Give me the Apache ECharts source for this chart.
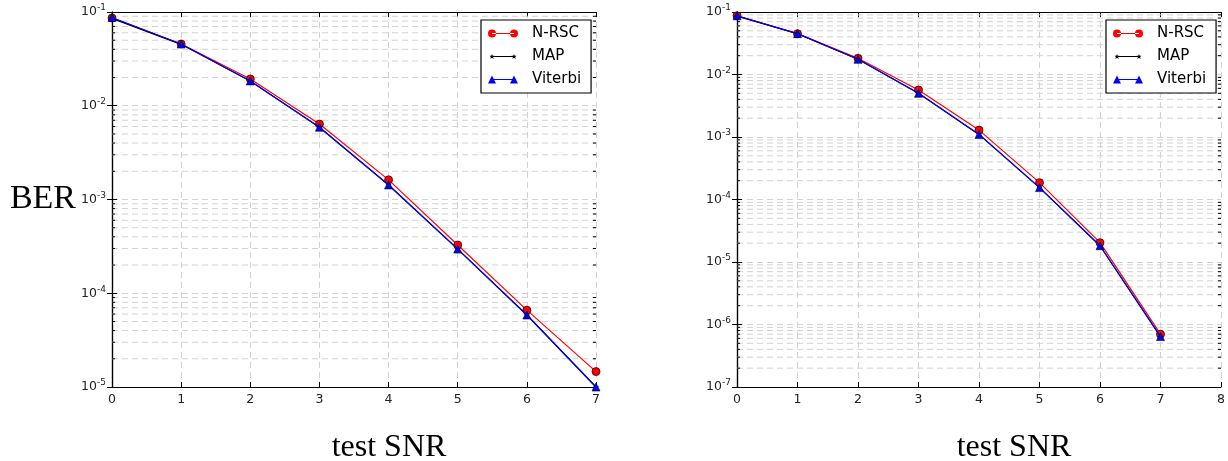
<!DOCTYPE html>
<html><head><meta charset="utf-8">
<script src="https://cdn.jsdelivr.net/npm/echarts@6/dist/echarts.min.js"></script>
<style>html,body{margin:0;padding:0;background:#fff}#c{width:1228px;height:461px}</style>
</head><body><div id="c"></div>
<script>
// ---- data ----
const snrLeft = [0, 1, 2, 3, 4, 5, 6, 7];
const nrscLeft = [0.0863, 0.0456, 0.0193, 0.00638, 0.00162, 3.27e-4, 6.6e-5, 1.46e-5];
const mapLeft = [0.0855, 0.0452, 0.0184, 0.0059, 0.00143, 2.96e-4, 5.86e-5, 1.0e-5];
const viterbiLeft = [0.0875, 0.0456, 0.0184, 0.0059, 0.00143, 2.96e-4, 5.86e-5, 1.0e-5];

const snrRight = [0, 1, 2, 3, 4, 5, 6, 7];
const nrscRight = [0.087, 0.045, 0.0182, 0.00565, 0.00129, 1.86e-4, 2.04e-5, 7.0e-7];
const mapRight = [0.086, 0.0448, 0.0175, 0.0050, 0.0011, 1.55e-4, 1.82e-5, 6.4e-7];
const viterbiRight = [0.087, 0.045, 0.0175, 0.0050, 0.0011, 1.55e-4, 1.82e-5, 6.4e-7];

const seriesNames = ['N-RSC', 'MAP', 'Viterbi'];
const xLabel = 'test SNR';
const yLabel = 'BER';

// ---- helpers ----
const pairs = (xs, ys) => xs.map((x, i) => [x, ys[i]]);
const minorValues = (loExp, hiExp) => {
  const out = [];
  for (let e = loExp; e < hiExp; e++) for (let m = 2; m <= 9; m++) out.push([m, e]);
  return out;
};
const gridColor = '#d2d2d2';
const dash = [6, 4];
const tickFont = { fontFamily: 'DejaVu Sans', fontSize: 12.5, color: '#222' };
const yFmt = v => '10{s|' + Math.round(Math.log10(v)) + '}';
const starPath = 'M0,-10L2.35,-3.24L9.51,-3.09L3.8,1.24L5.88,8.09L0,4L-5.88,8.09L-3.8,1.24L-9.51,-3.09L-2.35,-3.24Z';

// legend icons: line with marker at both ends (30 x 8 box)
const lineBar = 'M4,3.4L26,3.4L26,4.6L4,4.6Z';
const iconCircle = 'path://M0,4a4,4 0 1,0 8,0a4,4 0 1,0 -8,0Z M22,4a4,4 0 1,0 8,0a4,4 0 1,0 -8,0Z ' + lineBar;
const iconTri = 'path://M0,8L4,0L8,8Z M22,8L26,0L30,8Z ' + lineBar;
const iconStar = 'path://M4,1.5L4.7,3.3L6.5,3.3L5.1,4.5L5.6,6.5L4,5.3L2.4,6.5L2.9,4.5L1.5,3.3L3.3,3.3Z ' +
  'M26,1.5L26.7,3.3L28.5,3.3L27.1,4.5L27.6,6.5L26,5.3L24.4,6.5L24.9,4.5L23.5,3.3L25.3,3.3Z ' +
  'M0,0L0.01,0L0.01,0.01Z M30,8L29.99,8L29.99,7.99Z M4,3.5L26,3.5L26,4.5L4,4.5Z';

function xAxisDef(gi, max, pos, withName) {
  return {
    type: 'value', gridIndex: gi, min: 0, max: max, interval: 1, position: pos,
    axisLine: { show: true, lineStyle: { color: '#000', width: 1.2 } },
    axisTick: { show: true, inside: true, length: 5, lineStyle: { color: '#000' } },
    axisLabel: pos === 'bottom' ? Object.assign({ margin: 6 }, tickFont) : { show: false },
    splitLine: { show: pos === 'bottom', lineStyle: { color: gridColor, type: dash } },
    name: withName ? xLabel : '', nameLocation: 'middle', nameGap: 45,
    nameTextStyle: { fontFamily: 'Liberation Serif', fontSize: 32, color: '#000', padding: [0, 0, 0, 70] }
  };
}
function yAxisDef(gi, minExp, pos, withName) {
  return {
    type: 'log', logBase: 10, gridIndex: gi, min: Math.pow(10, minExp), max: 0.1, interval: 1, position: pos,
    axisLine: { show: true, lineStyle: { color: '#000', width: 1.2 } },
    axisTick: { show: true, inside: true, length: 5, lineStyle: { color: '#000' } },
    axisLabel: pos === 'left' ? Object.assign({ margin: 6, formatter: yFmt,
      rich: { s: { fontFamily: 'DejaVu Sans', fontSize: 9, color: '#222', padding: [0, 0, 8, 0] } } }, tickFont) : { show: false },
    splitLine: { show: pos === 'left', lineStyle: { color: gridColor, type: dash } },
    name: withName ? yLabel : '', nameLocation: 'middle', nameRotate: 0, nameGap: 36,
    nameTextStyle: { fontFamily: 'Liberation Serif', fontSize: 34, color: '#000', padding: [18, 0, 0, 0] }
  };
}
function minorGrid(gi, xMax, minExp) {
  return {
    type: 'custom', xAxisIndex: gi, yAxisIndex: gi, silent: true, z: 1, animation: false,
    data: minorValues(minExp, -1),
    renderItem: (params, api) => {
      const v = api.value(0) * Math.pow(10, api.value(1));
      const a = api.coord([0, v]);
      const b = api.coord([xMax, v]);
      return { type: 'group', children: [
        { type: 'line', shape: { x1: a[0], y1: a[1], x2: b[0], y2: b[1] },
          style: { stroke: gridColor, lineWidth: 1, lineDash: dash } },
        { type: 'line', shape: { x1: a[0], y1: a[1], x2: a[0] + 3, y2: a[1] }, style: { stroke: '#000', lineWidth: 1 } },
        { type: 'line', shape: { x1: b[0] - 3, y1: b[1], x2: b[0], y2: b[1] }, style: { stroke: '#000', lineWidth: 1 } }
      ] };
    }
  };
}
function seriesFor(gi, xs, a, b, c, xMax, minExp) {
  const base = { type: 'line', xAxisIndex: gi, yAxisIndex: gi, animation: false };
  return [
    minorGrid(gi, xMax, minExp),
    Object.assign({}, base, { name: seriesNames[0], data: pairs(xs, a), z: 3,
      symbol: 'circle', symbolSize: 8, lineStyle: { color: '#ff0000', width: 1.2 },
      itemStyle: { color: '#ff0000', borderColor: '#300', borderWidth: 0.8 } }),
    Object.assign({}, base, { name: seriesNames[1], data: pairs(xs, b), z: 4,
      symbol: 'path://' + starPath, symbolSize: 6,
      lineStyle: { color: '#000', width: 1.2 }, itemStyle: { color: '#000' } }),
    Object.assign({}, base, { name: seriesNames[2], data: pairs(xs, c), z: 5,
      symbol: 'triangle', symbolSize: 8, lineStyle: { color: '#0000ff', width: 1.2 },
      itemStyle: { color: '#0000ff', borderColor: '#000', borderWidth: 0.6 } })
  ];
}
function legendDef(left) {
  return {
    data: [
      { name: seriesNames[0], icon: iconCircle, itemStyle: { color: '#ff0000', borderWidth: 0 } },
      { name: seriesNames[1], icon: iconStar, itemStyle: { color: '#000', borderWidth: 0 } },
      { name: seriesNames[2], icon: iconTri, itemStyle: { color: '#0000ff', borderWidth: 0 } }
    ],
    orient: 'vertical', left: left, top: 20,
    backgroundColor: '#fff', borderColor: '#000', borderWidth: 1.2, borderRadius: 0,
    padding: [6, 10, 6, 7], itemGap: 8, itemWidth: 30, itemHeight: 8,
    textStyle: { fontFamily: 'DejaVu Sans', fontSize: 15, color: '#000', padding: [0, 0, 0, 9] }, selectedMode: false
  };
}

const chart = echarts.init(document.getElementById('c'), null, { renderer: 'canvas' });
chart.setOption({
  animation: false,
  backgroundColor: '#fff',
  grid: [
    { left: 112, top: 12, width: 484, height: 375, show: false, containLabel: false, outerBoundsMode: 'none' },
    { left: 737, top: 12, width: 484, height: 375, show: false, containLabel: false, outerBoundsMode: 'none' }
  ],
  xAxis: [xAxisDef(0, 7, 'bottom', true), xAxisDef(1, 8, 'bottom', true), xAxisDef(0, 7, 'top', false), xAxisDef(1, 8, 'top', false)],
  yAxis: [yAxisDef(0, -5, 'left', true), yAxisDef(1, -7, 'left', false), yAxisDef(0, -5, 'right', false), yAxisDef(1, -7, 'right', false)],
  legend: [legendDef(481), legendDef(1106)],
  series: [].concat(
    seriesFor(0, snrLeft, nrscLeft, mapLeft, viterbiLeft, 7, -5),
    seriesFor(1, snrRight, nrscRight, mapRight, viterbiRight, 8, -7)
  )
});
</script></body></html>
